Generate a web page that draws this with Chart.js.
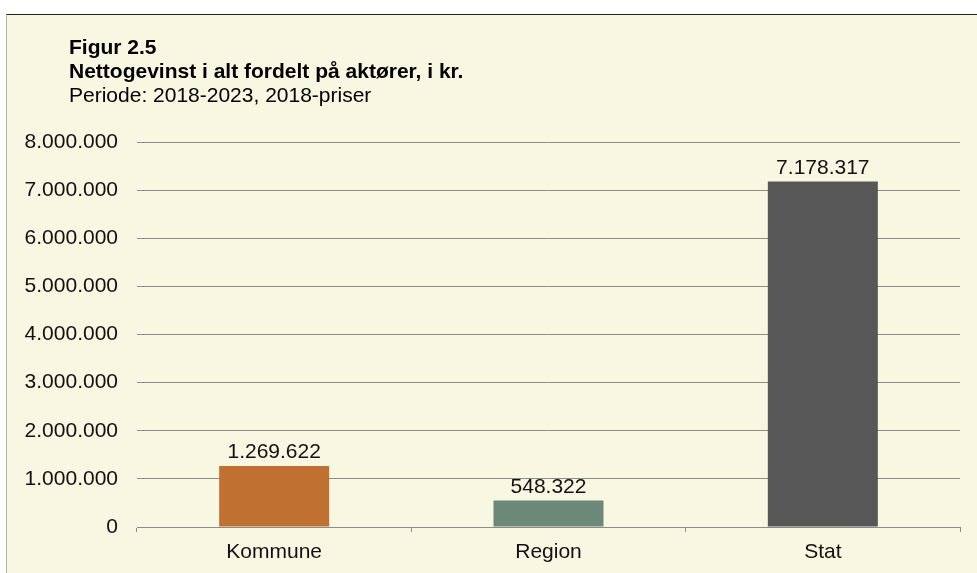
<!DOCTYPE html>
<html>
<head>
<meta charset="utf-8">
<script src="https://cdn.jsdelivr.net/npm/chart.js@4"></script>
<style>
  body { margin: 0; background: #fff; }
  #frame {
    position: absolute; left: 6px; top: 14px; width: 971px; height: 559px;
    background: #f8f7e2; border-top: 1px solid #222; border-left: 1px solid #b4b4b4;
    box-sizing: border-box;
  }
  #chart { display: block; }
</style>
</head>
<body>
<div id="frame"><canvas id="chart" width="970" height="558"></canvas></div>
<script>
// Chart data
const categories = ['Kommune', 'Region', 'Stat'];
const values = [1269622, 548322, 7178317];
const barColors = ['#c07031', '#6b8878', '#575757'];
const titleLines = ['Figur 2.5', 'Nettogevinst i alt fordelt på aktører, i kr.'];
const subtitleLine = 'Periode: 2018-2023, 2018-priser';

const FONT = '"Liberation Sans", Arial, sans-serif';

function formatNumber(n) {
  return String(Math.round(n)).replace(/\B(?=(\d{3})+(?!\d))/g, '.');
}

// Header text in the top left
const headerPlugin = {
  id: 'header',
  afterDraw(chart) {
    const ctx = chart.ctx;
    ctx.save();
    ctx.fillStyle = '#000';
    ctx.textAlign = 'left';
    ctx.textBaseline = 'alphabetic';
    ctx.font = 'bold 21px ' + FONT;
    ctx.fillText(titleLines[0], 62, 39);
    ctx.fillText(titleLines[1], 62, 63);
    ctx.font = '21px ' + FONT;
    ctx.fillText(subtitleLine, 62, 87);
    ctx.restore();
  }
};

// Value labels above each bar
const valueLabels = {
  id: 'valueLabels',
  afterDatasetsDraw(chart) {
    const ctx = chart.ctx;
    const meta = chart.getDatasetMeta(0);
    ctx.save();
    ctx.fillStyle = '#111';
    ctx.font = '21px ' + FONT;
    ctx.textAlign = 'center';
    ctx.textBaseline = 'alphabetic';
    meta.data.forEach((bar, i) => {
      ctx.fillText(formatNumber(values[i]), bar.x, bar.y - 8);
    });
    ctx.restore();
  }
};

new Chart(document.getElementById('chart'), {
  type: 'bar',
  data: {
    labels: categories,
    datasets: [{
      data: values,
      backgroundColor: barColors,
      categoryPercentage: 1,
      barPercentage: 0.401
    }]
  },
  options: {
    responsive: false,
    animation: false,
    layout: { padding: { left: 0, right: 17, top: 127, bottom: 0 } },
    plugins: {
      legend: { display: false },
      tooltip: { enabled: false }
    },
    scales: {
      x: {
        grid: {
          offset: true,
          drawOnChartArea: false,
          drawTicks: true,
          tickLength: 5,
          color: '#8c8c8c'
        },
        border: { display: true, color: '#8c8c8c', width: 1 },
        ticks: {
          color: '#111',
          font: { family: FONT, size: 21 },
          padding: 8
        },
        afterFit(scale) { scale.height = 46; }
      },
      y: {
        min: 0,
        max: 8000000,
        grid: { color: '#8c8c8c', drawTicks: false },
        border: { display: false },
        ticks: {
          stepSize: 1000000,
          color: '#111',
          font: { family: FONT, size: 21 },
          padding: 19,
          callback: v => formatNumber(v)
        },
        afterFit(scale) { scale.width = 130; }
      }
    }
  },
  plugins: [headerPlugin, valueLabels]
});
</script>
</body>
</html>
